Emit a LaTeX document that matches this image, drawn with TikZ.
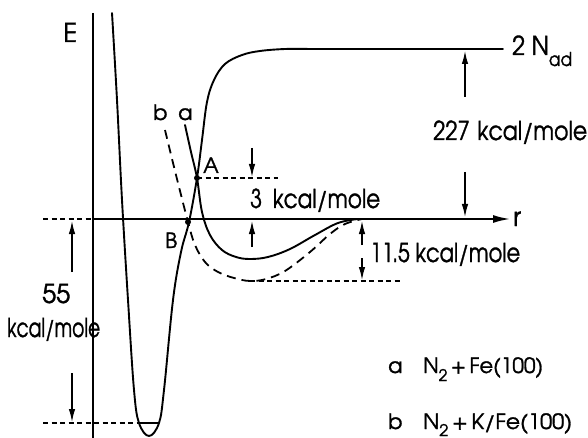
\documentclass[tikz,border=0pt]{standalone}
\usepackage{fontspec}
\setmainfont{TeX Gyre Adventor}[FakeBold=1.3]
\usetikzlibrary{arrows.meta}
\newcommand{\fw}[2]{\resizebox{#1}{\height}{#2}}
\newcommand{\lowtxt}[3]{\raisebox{#1}{\fontsize{#2}{#2}\selectfont #3}}
\tikzset{
  curve/.style={line width=1.9pt, line cap=round, line join=round},
  axisline/.style={line width=1.8pt},
  dimline/.style={line width=1.3pt, dash pattern=on 5pt off 3.5pt},
  bcurve/.style={line width=1.8pt, dash pattern=on 9pt off 6pt},
  dimarrow/.style={line width=1.3pt, -{Latex[length=13pt,width=6.5pt]}},
  lbl/.style={anchor=base west, inner sep=0pt, font=\fontsize{26}{26}\selectfont},
  smalllbl/.style={anchor=base west, inner sep=0pt, font=\fontsize{21}{21}\selectfont},
  dotmark/.style={circle, fill, inner sep=0pt, minimum size=6pt}
}
\begin{document}
\begin{tikzpicture}[x=1pt,y=-1pt]
\useasboundingbox (0,0) rectangle (588,438);
% axes
\coordinate (Etop) at (93,13);
\coordinate (Ebot) at (93,438);
\coordinate (rstart) at (93,219);
\coordinate (rend) at (510,219);
\draw[axisline] (Etop) -- (Ebot);
\draw[axisline, -{Latex[length=17pt,width=8pt]}] (rstart) -- (rend);
\node[lbl] (E) at (63,42) {E};
\node[lbl] (r) at (513,226) {r};
% deep well and plateau
\draw[curve] plot[smooth, tension=0.6] coordinates {(112,13) (117,100) (122,200) (128,300) (134,390) (139,423) (149,436) (159,423) (164,390) (173,300) (181,252) (189,222) (197,178) (202,140) (207,102) (214,80) (225,64) (242,55) (260,51) (285,49) (310,49)} -- (503,49);
% vibrational level
\draw[curve] (139,423) -- (159,423);
% curve a
\draw[curve] plot[smooth, tension=0.6] coordinates {(185,125) (191,152) (197,178) (202,212) (210,235) (222,250) (236,257) (250,259) (268,257) (290,249) (315,235) (338,223) (358,219)};
% curve b
\draw[bcurve] plot[smooth, tension=0.6] coordinates {(165,130) (176,175) (188,222) (195,245) (205,262) (218,272) (234,278) (250,281) (266,279) (285,271) (310,252) (330,234) (345,224) (362,219)};
% points
\node[dotmark] (Apt) at (197,178) {};
\node[dotmark] (Bpt) at (188,222) {};
\node[smalllbl] (Alab) at (203,173) {A};
\node[smalllbl] (Blab) at (165,248) {B};
\node[smalllbl] (alab) at (178,120) {a};
\node[smalllbl] (blab) at (153,120) {b};
% dashed reference lines
\coordinate (zl) at (43,219);
\coordinate (bl) at (43,423);
\coordinate (vl) at (139,423);
\coordinate (Aend) at (278,178);
\coordinate (bmin) at (250,281);
\coordinate (bminend) at (400,281);
\draw[dimline] (zl) -- (rstart);
\draw[dimline] (bl) -- (vl);
\draw[dimline] (Apt.center) -- (Aend);
\draw[dimline] (bmin) -- (bminend);
% dimension arrows
\draw[dimarrow] (465,97) -- (465,51);
\draw[dimarrow] (465,172) -- (465,217);
\draw[dimarrow] (252,148) -- (252,177);
\draw[dimarrow] (252,247) -- (252,221);
\draw[dimarrow] (362,245) -- (362,221);
\draw[dimarrow] (362,258) -- (362,280);
\draw[dimarrow] (72,272) -- (72,221);
\draw[dimarrow] (72,373) -- (72,422);
% labels
\node[lbl] (Nad) at (512,55) {\fw{60pt}{2 N\lowtxt{-11pt}{19pt}{ad}}};
\node[lbl] (e227) at (433,140) {\fw{154pt}{227\hspace{0.35em}kcal/mole}};
\node[lbl] (e3) at (250,208) {\fw{130pt}{3\hspace{0.5em}kcal/mole}};
\node[lbl] (e115) at (370,262) {\fw{150pt}{11.5 kcal/mole}};
\node[lbl] (e55) at (42,303) {\fw{28pt}{55}};
\node[lbl] (e55u) at (7,337) {\fw{93pt}{kcal/mole}};
% legend
\node[smalllbl] (lega) at (388,373) {a};
\node[smalllbl] (legatxt) at (423,373) {\fw{120pt}{N\lowtxt{-8pt}{16pt}{2}\,+\,Fe(100)}};
\node[smalllbl] (legb) at (388,429) {b};
\node[smalllbl] (legbtxt) at (423,429) {\fw{149pt}{N\lowtxt{-7pt}{16pt}{2}\,+\,K/Fe(100)}};
\end{tikzpicture}
\end{document}
